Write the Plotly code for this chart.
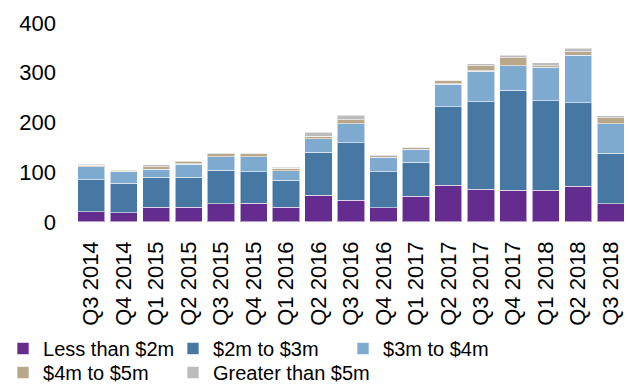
import plotly.graph_objects as go

quarters = ["Q3 2014", "Q4 2014", "Q1 2015", "Q2 2015", "Q3 2015", "Q4 2015",
            "Q1 2016", "Q2 2016", "Q3 2016", "Q4 2016", "Q1 2017", "Q2 2017",
            "Q3 2017", "Q4 2017", "Q1 2018", "Q2 2018", "Q3 2018"]

less_2m = [21, 19, 29.5, 29.5, 37, 37.5, 29.5, 53.5, 44, 29, 52, 74, 65.5, 63.5, 63.5, 72, 37]
m2_to_3 = [64, 59, 60.5, 60.5, 67, 63.5, 54, 86.5, 115.5, 72, 68, 158, 176.5, 201.5, 180.5, 168, 101]
m3_to_4 = [26, 23, 16, 26.5, 27, 30, 20, 27.5, 38, 29, 26, 45.5, 61.5, 49, 67, 95, 60]
m4_to_5 = [3.5, 1.5, 5, 4.5, 6, 7, 5, 5, 8, 3, 4, 7, 10.5, 16, 3, 7.5, 11.5]
over_5m = [2.5, 1.5, 4, 1.5, 1.5, 1, 2.5, 8, 9, 1.5, 1.5, 1.5, 4, 5.5, 6, 6.5, 4]

# (name, values, colour, legend box)
series = [
    ("Less than $2m", less_2m, "#652c8f", "legend"),
    ("$2m to $3m", m2_to_3, "#4777a3", "legend"),
    ("$3m to $4m", m3_to_4, "#7faacf", "legend"),
    ("$4m to $5m", m4_to_5, "#b8a78b", "legend2"),
    ("Greater than $5m", over_5m, "#bcbcbc", "legend3"),
]

font_family = "Arial, 'Liberation Sans', sans-serif"

fig = go.Figure()
for name, vals, color, leg in series:
    fig.add_trace(go.Bar(
        x=quarters, y=vals, name=name, legend=leg,
        marker=dict(color=color, line=dict(color="rgba(255,255,255,0.55)", width=1.2)),
    ))

legend_style = dict(
    orientation="h",
    xref="container", yref="container",
    xanchor="left", yanchor="top",
    bgcolor="rgba(0,0,0,0)",
    font=dict(size=20, color="black"),
    itemwidth=30,
    traceorder="normal",
)

fig.update_layout(
    barmode="stack",
    bargap=0.16,
    width=630, height=385,
    margin=dict(l=75, r=3, t=23, b=163),
    paper_bgcolor="white", plot_bgcolor="white",
    font=dict(family=font_family, size=22, color="black"),
    showlegend=True,
    # first legend row: three entries on a fixed column pitch
    legend=dict(x=0.0048, y=0.1455, entrywidth=125, entrywidthmode="pixels", **legend_style),
    # second legend row: one box per column
    legend2=dict(x=0.0048, y=0.0831, **legend_style),
    legend3=dict(x=0.2746, y=0.0831, **legend_style),
    xaxis=dict(
        tickangle=-90,
        showgrid=False, showline=False, zeroline=False,
        ticks="", ticklabelstandoff=14,
        tickfont=dict(size=22),
    ),
    yaxis=dict(
        range=[0, 400], tickvals=[0, 100, 200, 300, 400],
        showgrid=False, showline=False, zeroline=False,
        ticks="", ticklabelstandoff=18,
        tickfont=dict(size=22),
    ),
)

fig.write_html("out.html")
